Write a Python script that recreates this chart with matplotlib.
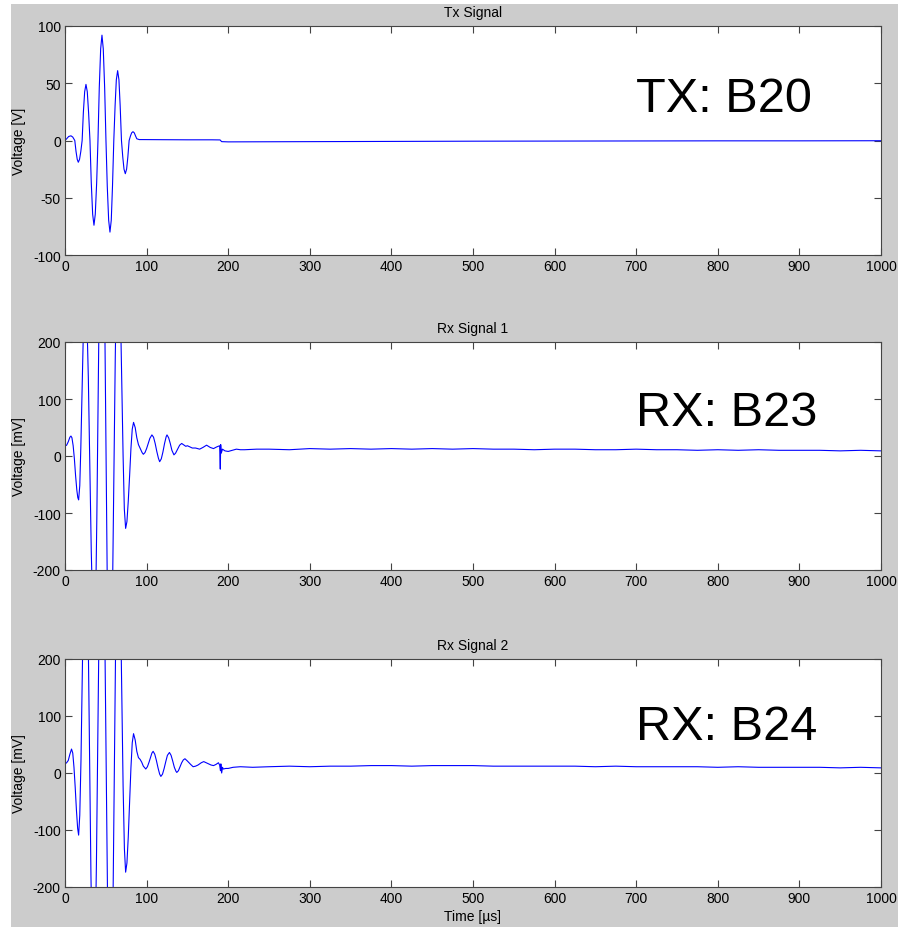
#!/usr/bin/env python

import matplotlib
matplotlib.use('Agg')
import matplotlib.pyplot as plt
from matplotlib.patches import Rectangle

# transmitted pulse, time in us, voltage in V
TX_TIME = [0, 2, 4.5, 7.3, 9.5, 12, 13.5, 15, 16.3, 17.8, 19.4, 21, 22.5,
           24.1, 25.7, 27.3, 28.9, 30.6, 32.2, 33.9, 35.5, 37.1, 38.8, 40.4,
           42, 43.7, 45.3, 46.9, 48.6, 50.2, 51.8, 53.5, 55.1, 56.7, 58.2,
           59.8, 61.4, 62.9, 64.5, 66.1, 67.6, 69.2, 70.8, 72.3, 73.9, 75.5,
           77, 78.6, 80.2, 81.7, 83.3, 84.9, 86.5, 88, 91, 95, 120, 150, 180,
           190, 192, 200, 300, 400, 500, 600, 700, 800, 900, 1000]
TX_VOLT = [0, 1.5, 3.5, 4.1, 3, 0, -9.5, -16.5, -19, -16.5, -9.5, 0, 24.5,
           42.6, 49, 42.6, 24.5, 0, -37, -64.4, -74, -64.4, -37, 0,
           46, 80, 92, 80, 46, 0, -40, -69.6, -80, -69.6, -40,
           0, 30.5, 53, 61, 53, 30.5, 0, -14.5, -25, -29, -25,
           -14.5, 0, 3.9, 6.7, 7.7, 6.7, 3.9, 1.5, 0.8, 0.8, 0.7, 0.6, 0.6,
           0.5, -1.0, -1.2, -1.0, -0.8, -0.6, -0.5, -0.4, -0.3, -0.3, -0.2]

# received signal 1, voltage in mV
RX1_TIME = [0, 2, 4, 6, 7.3, 8.5, 10, 11.5, 13, 14.5, 15.7, 16.7, 18.1, 19.4,
            20.8, 22.2, 23.5, 24.9, 26.7, 28.6, 30.4, 32.2, 34.1, 35.9, 37.5,
            39, 40.6, 42.2, 43.7, 45.3, 46.9, 48.5, 50.1, 51.7, 53.3, 54.9,
            56.6, 58.2, 59.9, 61.6, 63.2, 64.9, 66.5, 68, 69.6, 71.2, 72.7,
            74.3, 75.9, 77.5, 79.2, 80.8, 82.4, 84, 86, 88, 90, 92.5, 94.5, 96,
            98, 100, 102, 104, 106.5, 108.5, 110.5, 112.5, 114.5, 116, 118,
            120, 122, 124, 125, 127, 129, 131, 133.5, 135.5, 138, 140.5, 143,
            145, 148, 150, 153, 156, 160, 165, 169, 173.5, 178, 182, 186,
            189.5, 190.3, 190.8, 191.5, 193, 196, 200, 205, 210, 215, 220,
            235, 250, 275, 300, 325, 350, 375, 400, 425, 450, 475, 500, 525,
            550, 575, 600, 625, 650, 675, 700, 725, 750, 775, 800, 825, 850,
            875, 900, 925, 950, 975, 1000]
RX1_VOLT = [17.5, 19, 25, 33, 35, 32, 18, -5, -35, -60, -73, -77, -52, 15,
            106, 198, 265, 290, 249, 137, -15, -168, -279, -320, -264,
            -110, 100, 310, 464, 520, 455, 277, 35, -208, -385, -450,
            -394, -242, -35, 173, 324, 380, 346, 253, 127, 0, -93,
            -127, -115, -80, -34, 13, 47, 59, 50, 32, 20, 12, 6, 3,
            6, 13, 22, 31, 37, 33, 22, 8, -4, -10, -5,
            7, 22, 34, 37, 32, 22, 10, 2, 5, 12, 19, 22,
            20, 17, 18, 16, 14, 14, 12, 15, 19, 15, 13, 16,
            18, -23, 20, 5, 12, 9, 8, 10, 12, 11, 11,
            12, 12, 11, 13, 12, 13, 12, 13, 12, 13, 12, 13, 12,
            12, 11, 12, 12, 11, 11, 12, 11, 11, 10, 11, 10, 11,
            10, 10, 10, 9, 10, 9]

# received signal 2, voltage in mV
RX2_TIME = [0, 2, 4, 6, 8, 9.5, 11, 12.5, 14, 15.5, 16.7, 18.1, 19.6, 21,
            22.4, 23.9, 25.3, 26.9, 28.6, 30.2, 31.8, 33.5, 35.1, 36.8, 38.5,
            40.2, 41.9, 43.6, 45.3, 47, 48.7, 50.4, 52.1, 53.8, 55.5, 57.1,
            58.7, 60.3, 61.9, 63.5, 65.1, 66.6, 68.2, 69.7, 71.2, 72.8, 74.3,
            75.9, 77.5, 79.2, 80.8, 82.4, 84, 86, 88, 90, 92, 94, 96, 99, 101,
            103, 105, 106.5, 108, 110, 112, 114, 116, 117.5, 119.5, 121.5,
            123.5, 125.5, 128, 130, 132, 134, 136, 137, 139, 141, 143, 145,
            147, 150, 154, 157, 160, 163, 167, 170, 173, 176, 179, 182, 185,
            188, 189.5, 190.5, 191, 192, 193, 194, 197, 200, 206, 215, 230,
            250, 275, 300, 325, 350, 375, 400, 425, 450, 475, 500, 525, 550,
            575, 600, 625, 650, 675, 700, 725, 750, 775, 800, 825, 850, 875,
            900, 925, 950, 975, 1000]
RX2_VOLT = [16, 18, 22, 33, 42, 35, 10, -25, -65, -97, -109, -74, 23, 156,
            288, 385, 420, 366, 220, 20, -180, -326, -380, -321, -160,
            60, 280, 441, 500, 435, 258, 15, -228, -405, -470, -410,
            -245, -20, 205, 370, 430, 390, 279, 128, -23, -133, -174,
            -158, -113, -52, 9, 53, 69, 58, 38, 27, 24, 19, 12, 7, 11,
            19, 28, 35, 38, 33, 22, 9, -2, -6, -2, 8,
            20, 31, 36, 31, 21, 10, 3, 1, 4, 11, 18, 23,
            25, 21, 15, 11, 12, 14, 18, 20, 18, 16, 14, 13, 15,
            18, 14, 4, 16, 0, 10, 7, 8, 8, 10, 11, 10,
            11, 12, 11, 12, 12, 13, 13, 12, 13, 13, 13, 12, 12,
            12, 12, 12, 11, 12, 11, 11, 11, 11, 10, 11, 10, 10,
            10, 10, 9, 10, 9]

TITLES = ['Tx Signal', 'Rx Signal 1', 'Rx Signal 2']
YLABELS = ['Voltage [V]', 'Voltage [mV]', 'Voltage [mV]']
LABELS = ['TX: B20', 'RX: B23', 'RX: B24']
YLIMS = [(-100, 100), (-200, 200), (-200, 200)]
YTICKS = [[-100, -50, 0, 50, 100], [-200, -100, 0, 100, 200],
          [-200, -100, 0, 100, 200]]
XTICKS = list(range(0, 1001, 100))

W, H = 898, 928
AX_LEFT, AX_RIGHT = 65, 881
AX_ROWS = [(27, 256), (343, 571), (660, 888)]  # top, bottom in pixels
LABEL_Y = [0.629, 0.634, 0.649]


def main():
    plt.rcParams['font.family'] = ['Liberation Sans', 'DejaVu Sans']
    plt.rcParams['font.size'] = 10
    plt.rcParams['axes.unicode_minus'] = False

    fig = plt.figure(figsize=(W / 100, H / 100), dpi=100, facecolor='white')
    # grey window background, leaving a thin white strip left and top
    fig.patches.append(Rectangle((11 / W, 0), 1 - 11 / W, 1 - 5 / H,
                                 transform=fig.transFigure,
                                 facecolor='#cccccc', edgecolor='none',
                                 zorder=-10))

    series = [(TX_TIME, TX_VOLT), (RX1_TIME, RX1_VOLT), (RX2_TIME, RX2_VOLT)]
    for idx, (t, v) in enumerate(series):
        top, bottom = AX_ROWS[idx]
        ax = fig.add_axes([AX_LEFT / W, 1 - bottom / H,
                           (AX_RIGHT - AX_LEFT) / W, (bottom - top) / H])
        ax.plot(t, v, color='blue', linewidth=0.8)
        ax.set_xlim(0, 1000)
        ax.set_ylim(*YLIMS[idx])
        ax.set_xticks(XTICKS)
        ax.set_yticks(YTICKS[idx])
        ax.tick_params(direction='in', top=True, right=True, length=5,
                       color='#444444', labelsize=10, pad=3)
        for sp in ax.spines.values():
            sp.set_color('#444444')
            sp.set_linewidth(0.8)
        ax.set_title(TITLES[idx], fontsize=10, pad=7)
        ax.set_ylabel(YLABELS[idx], fontsize=10, labelpad=5)
        ax.text(0.7, LABEL_Y[idx], LABELS[idx], fontsize=35,
                ha='left', va='baseline', transform=ax.transAxes)
        if idx == 2:
            ax.set_xlabel('Time [\u00b5s]', fontsize=10, labelpad=3)

    plt.savefig('out.png', dpi=100, facecolor=fig.get_facecolor())


if __name__ == '__main__':
    main()
